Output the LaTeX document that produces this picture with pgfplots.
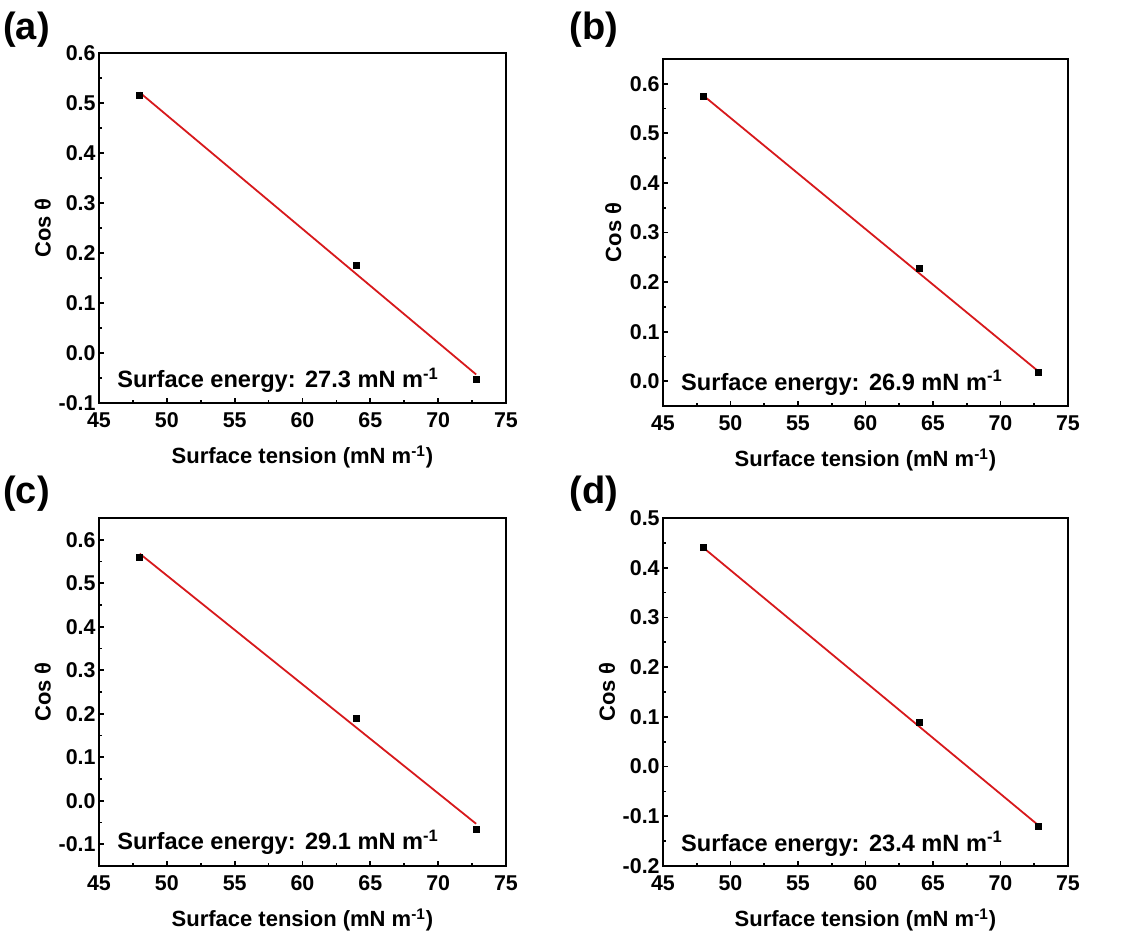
\documentclass[border=0pt]{standalone}
\usepackage{fontspec}
\setmainfont{Liberation Sans}
\usepackage{pgfplots}
\pgfplotsset{compat=1.18}
\definecolor{fitred}{RGB}{215,25,28}
\tikzset{energy/.style={anchor=base west, inner sep=0pt, font=\bfseries\fontsize{11.8}{12}\selectfont},
 plab/.style={font=\bfseries\fontsize{19}{20}\selectfont}}
\pgfplotsset{
 myaxis/.style={
  scale only axis,
  anchor=south west,
  xmin=45, xmax=75,
  xtick={45,50,55,60,65,70,75},
  minor x tick num=1,
  minor y tick num=1,
  tick align=inside,
  xtick pos=bottom, ytick pos=left,
  major tick length=2.5pt, minor tick length=1.6pt,
  axis line style={line width=1pt},
  every tick/.style={black, line width=0.9pt},
  tick label style={font=\bfseries\fontsize{10.7}{11}\selectfont},
  y tick label style={inner xsep=1.5pt, inner ysep=0pt},
  x tick label style={inner ysep=0pt, yshift=-4.5pt},
  /pgf/number format/assume math mode=true,
  y tick label style={/pgf/number format/fixed, /pgf/number format/fixed zerofill, /pgf/number format/precision=1},
  xlabel={Surface tension (mN m\textsuperscript{-1})},
  ylabel={Cos θ},
  label style={font=\bfseries\fontsize{11}{12}\selectfont},
  xlabel style={at={(axis description cs:0.5,0)}, anchor=center, yshift=-27pt},
  clip=false,
 },
 pts/.style={only marks, mark=square*, mark size=1.5pt, black},
 fit/.style={fitred, line width=0.9pt, no marks},
}
\begin{document}
\begin{tikzpicture}
\path[use as bounding box] (0,0) rectangle (560.5pt,468pt);
% (a)
\begin{axis}[myaxis, at={(49.5pt,266.5pt)}, width=203.5pt, height=175pt,
  ymin=-0.1, ymax=0.6, ytick={-0.1,0,0.1,0.2,0.3,0.4,0.5,0.6},
  ylabel style={at={(axis description cs:-0.138,0.5)}, anchor=center}]
\addplot[pts] coordinates {(48,0.515) (64,0.175) (72.8,-0.052)};
\addplot[fit] coordinates {(48,0.521) (72.8,-0.043)};
\node[energy] at (axis description cs:0.044,0.043) {Surface energy:\hspace{0.4em}27.3 mN m\textsuperscript{-1}};
\end{axis}
% (b)
\begin{axis}[myaxis, at={(331.5pt,265pt)}, width=202.5pt, height=173.5pt,
  ymin=-0.05, ymax=0.65, ytick={0,0.1,0.2,0.3,0.4,0.5,0.6},
  ylabel style={at={(axis description cs:-0.123,0.5)}, anchor=center}]
\addplot[pts] coordinates {(48,0.575) (64,0.228) (72.8,0.018)};
\addplot[fit] coordinates {(48,0.576) (72.8,0.020)};
\node[energy] at (axis description cs:0.044,0.046) {Surface energy:\hspace{0.4em}26.9 mN m\textsuperscript{-1}};
\end{axis}
% (c)
\begin{axis}[myaxis, at={(49.5pt,35pt)}, width=203.5pt, height=174pt,
  ymin=-0.15, ymax=0.65, ytick={-0.1,0,0.1,0.2,0.3,0.4,0.5,0.6},
  ylabel style={at={(axis description cs:-0.138,0.5)}, anchor=center}]
\addplot[pts] coordinates {(48,0.560) (64,0.190) (72.8,-0.067)};
\addplot[fit] coordinates {(48,0.568) (72.8,-0.053)};
\node[energy] at (axis description cs:0.044,0.046) {Surface energy:\hspace{0.4em}29.1 mN m\textsuperscript{-1}};
\end{axis}
% (d)
\begin{axis}[myaxis, at={(331.5pt,35pt)}, width=202.5pt, height=174pt,
  ymin=-0.2, ymax=0.5, ytick={-0.2,-0.1,0,0.1,0.2,0.3,0.4,0.5},
  ylabel style={at={(axis description cs:-0.138,0.5)}, anchor=center}]
\addplot[pts] coordinates {(48,0.440) (64,0.088) (72.8,-0.120)};
\addplot[fit] coordinates {(48,0.440) (72.8,-0.118)};
\node[energy] at (axis description cs:0.044,0.043) {Surface energy:\hspace{0.4em}23.4 mN m\textsuperscript{-1}};
\end{axis}
\node[plab] at (13.25pt,453pt) {(a)};
\node[plab] at (297pt,453pt) {(b)};
\node[plab] at (13.25pt,221pt) {(c)};
\node[plab] at (297pt,221pt) {(d)};
\end{tikzpicture}
\end{document}
